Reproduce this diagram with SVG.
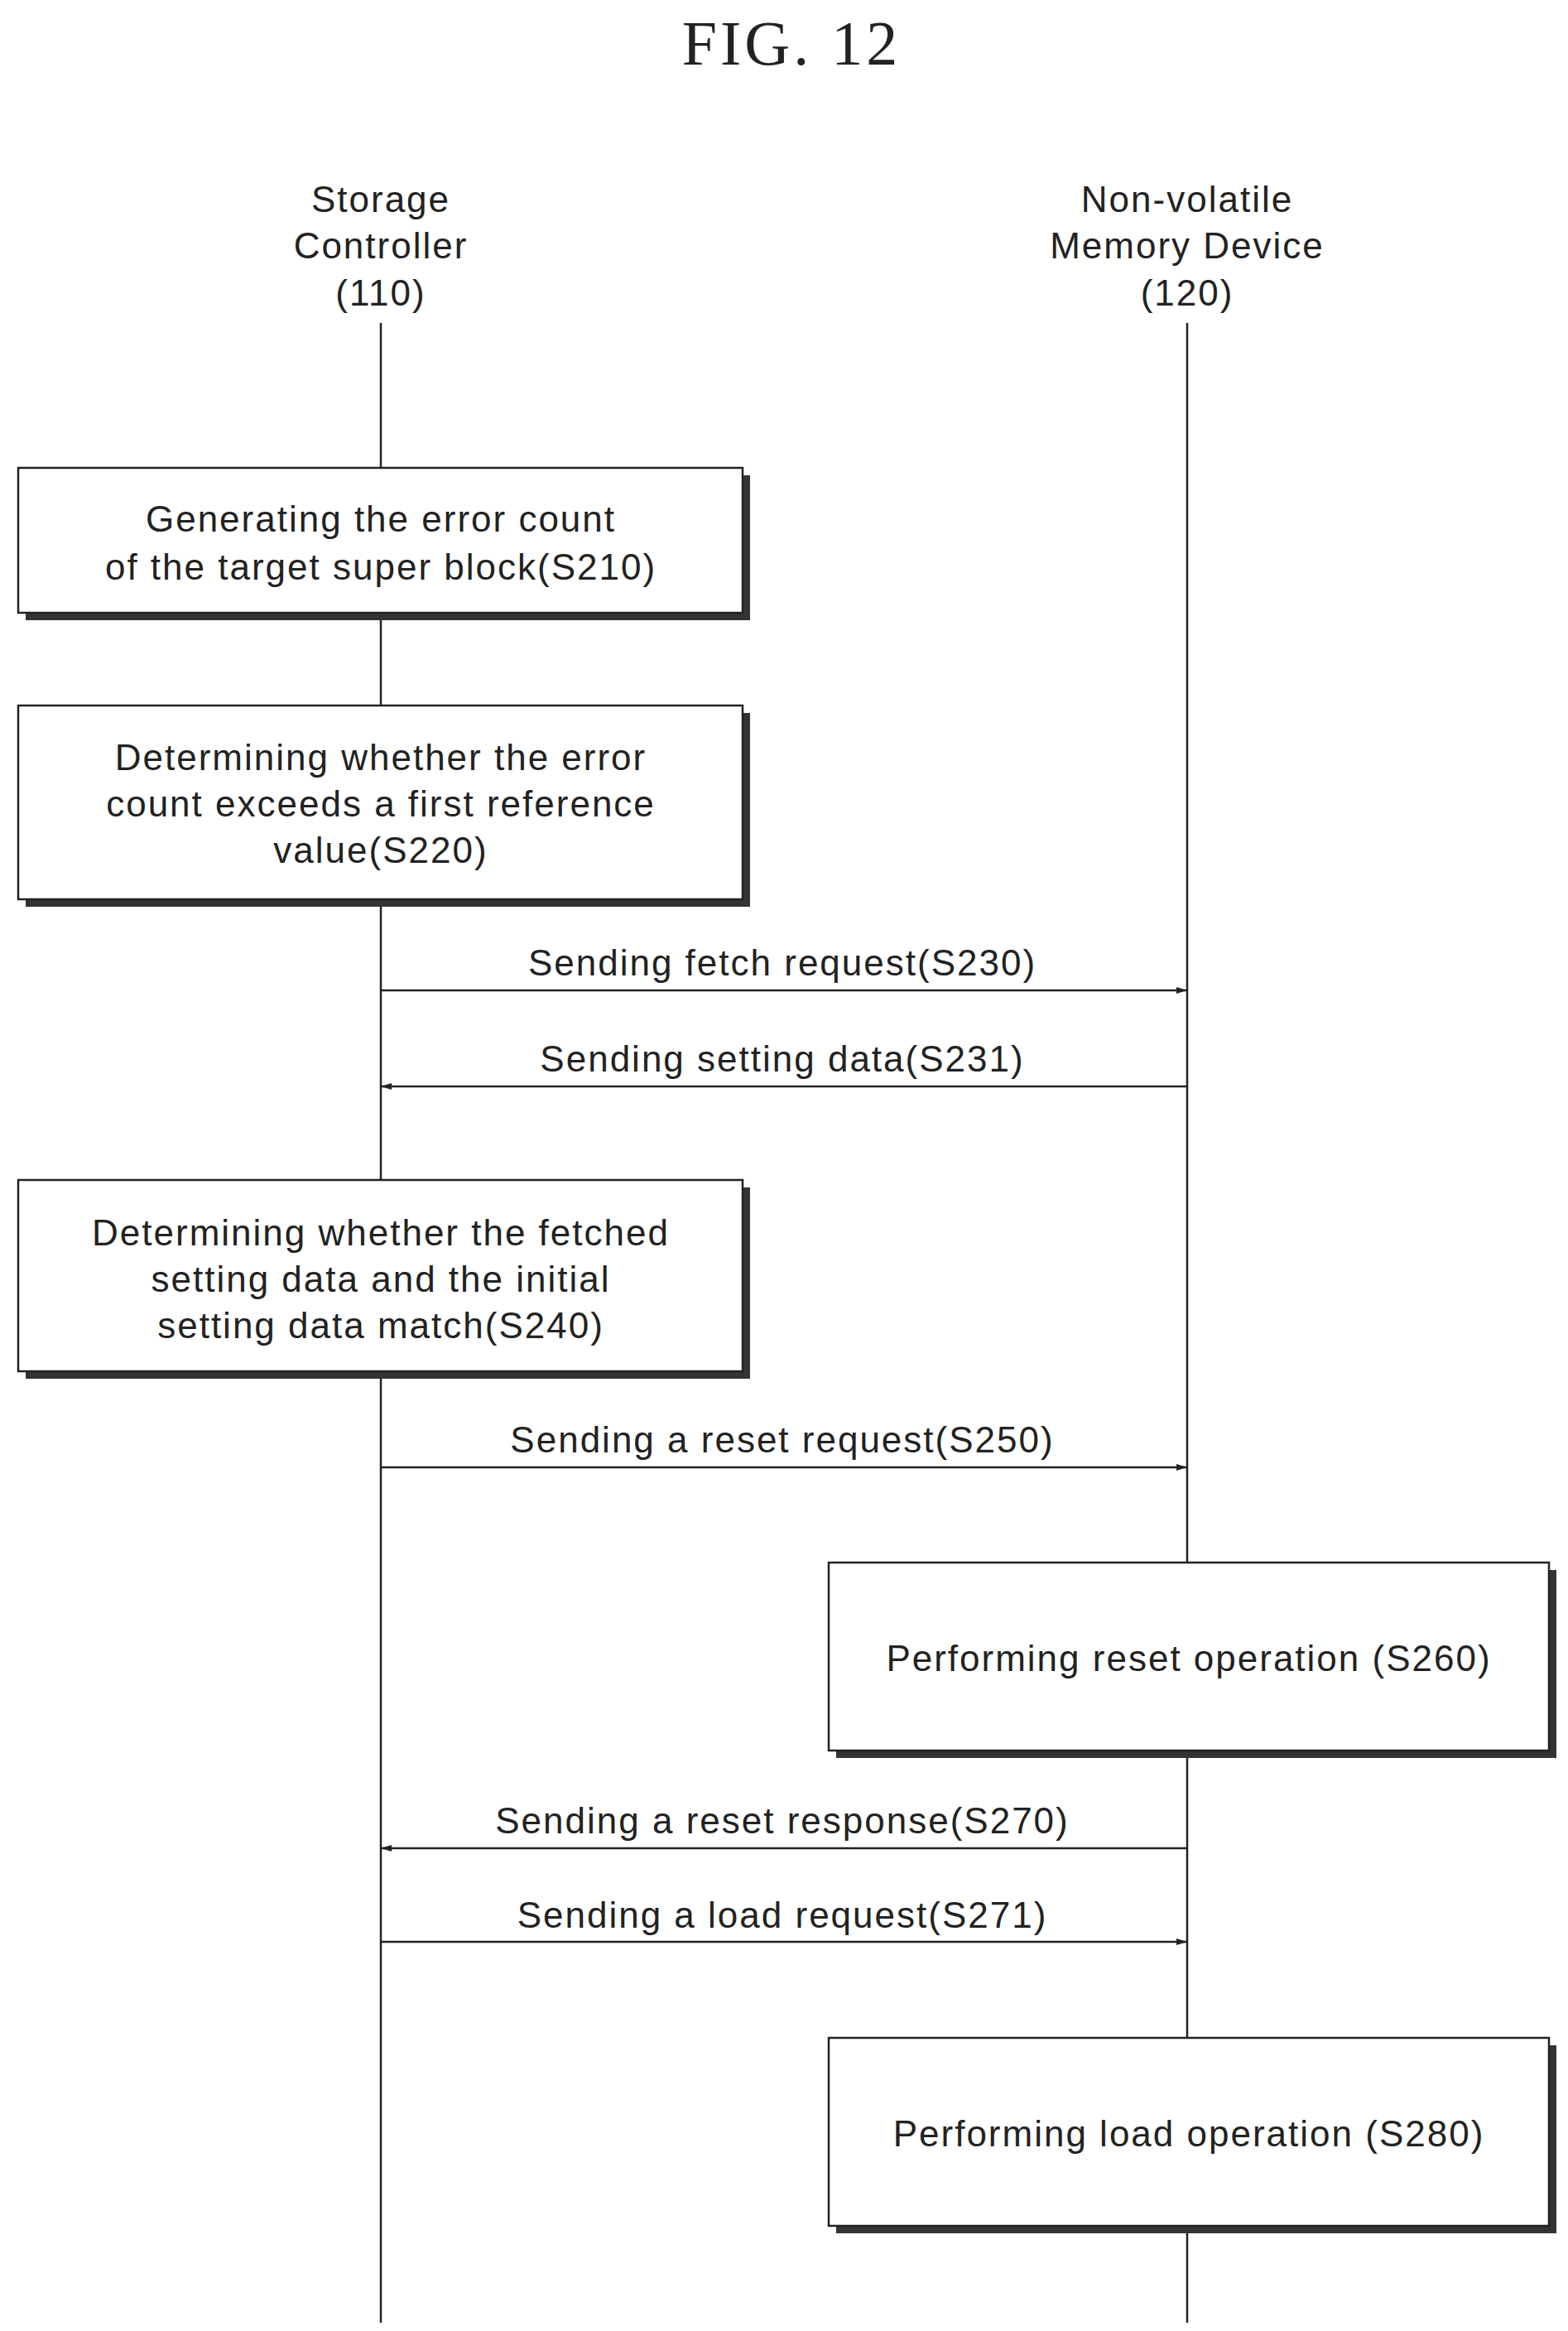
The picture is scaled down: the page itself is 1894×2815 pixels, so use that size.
<svg xmlns="http://www.w3.org/2000/svg" width="1894" height="2815" viewBox="0 0 1894 2815">
<style>
text{font-family:"Liberation Sans",Arial,sans-serif;fill:#222;text-anchor:middle}
.t{font-size:44px;letter-spacing:2px}
.h{font-size:44px;letter-spacing:2px}
.box{fill:#fff;stroke:#222;stroke-width:2.5}
.sh{fill:#333}
.ln{stroke:#222;stroke-width:2.5;fill:none}
</style>
<defs>
<marker id="ah" markerWidth="14" markerHeight="10" refX="13" refY="5" orient="auto" markerUnits="userSpaceOnUse"><path d="M0,1 L13,5 L0,9 z" fill="#222"/></marker>
</defs>
<rect width="1894" height="2815" fill="#fff"/>
<text x="956" y="78" style="font-size:76px;font-family:'Liberation Serif',serif;letter-spacing:4px">FIG. 12</text>
<g id="lifeline-sc">
<text class="h" x="460" y="256">Storage</text>
<text class="h" x="460" y="312">Controller</text>
<text class="h" x="460" y="369">(110)</text>
<line class="ln" x1="460" y1="390" x2="460" y2="2805"/>
</g>
<g id="lifeline-nvm">
<text class="h" x="1434" y="256">Non-volatile</text>
<text class="h" x="1434" y="312">Memory Device</text>
<text class="h" x="1434" y="369">(120)</text>
<line class="ln" x1="1434" y1="390" x2="1434" y2="2805"/>
</g>
<g id="s210">
<rect class="sh" x="31" y="574" width="875" height="175"/>
<rect class="box" x="22" y="565" width="875" height="175"/>
<text class="t" x="460" y="642">Generating the error count</text>
<text class="t" x="460" y="700">of the target super block(S210)</text>
</g>
<g id="s220">
<rect class="sh" x="31" y="861" width="875" height="234"/>
<rect class="box" x="22" y="852" width="875" height="234"/>
<text class="t" x="460" y="930">Determining whether the error</text>
<text class="t" x="460" y="986">count exceeds a first reference</text>
<text class="t" x="460" y="1042">value(S220)</text>
</g>
<g id="s240">
<rect class="sh" x="31" y="1434" width="875" height="231"/>
<rect class="box" x="22" y="1425" width="875" height="231"/>
<text class="t" x="460" y="1504">Determining whether the fetched</text>
<text class="t" x="460" y="1560">setting data and the initial</text>
<text class="t" x="460" y="1616">setting data match(S240)</text>
</g>
<g id="s260">
<rect class="sh" x="1010" y="1896" width="870" height="227"/>
<rect class="box" x="1001" y="1887" width="870" height="227"/>
<text class="t" x="1436" y="2018">Performing reset operation (S260)</text>
</g>
<g id="s280">
<rect class="sh" x="1010" y="2470" width="870" height="227"/>
<rect class="box" x="1001" y="2461" width="870" height="227"/>
<text class="t" x="1436" y="2592">Performing load operation (S280)</text>
</g>
<g id="connectors">
<line class="ln" x1="460" y1="1196" x2="1434" y2="1196" marker-end="url(#ah)"/>
<text class="t" x="945" y="1178">Sending fetch request(S230)</text>
<line class="ln" x1="1434" y1="1312" x2="460" y2="1312" marker-end="url(#ah)"/>
<text class="t" x="945" y="1294">Sending setting data(S231)</text>
<line class="ln" x1="460" y1="1772" x2="1434" y2="1772" marker-end="url(#ah)"/>
<text class="t" x="945" y="1754">Sending a reset request(S250)</text>
<line class="ln" x1="1434" y1="2232" x2="460" y2="2232" marker-end="url(#ah)"/>
<text class="t" x="945" y="2214">Sending a reset response(S270)</text>
<line class="ln" x1="460" y1="2345" x2="1434" y2="2345" marker-end="url(#ah)"/>
<text class="t" x="945" y="2328">Sending a load request(S271)</text>
</g>
</svg>
